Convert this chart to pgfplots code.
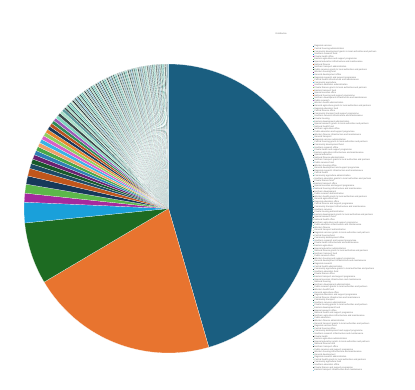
\documentclass[border=0pt]{standalone}
\usepackage{pgfplots}
\usepackage{pgfplotstable}
\pgfplotsset{compat=1.18}
\usepackage{fontspec}
\setmainfont{Liberation Sans}

\definecolor{pc0}{HTML}{1A5E80}
\definecolor{pc1}{HTML}{E8742F}
\definecolor{pc2}{HTML}{1D6B22}
\definecolor{pc3}{HTML}{1AA0DA}
\definecolor{pc4}{HTML}{A52A9E}
\definecolor{pc5}{HTML}{5CB84A}
\definecolor{pc6}{HTML}{16395A}
\definecolor{pc7}{HTML}{C0561C}
\definecolor{pc8}{HTML}{1D4A66}
\definecolor{pc9}{HTML}{175A2A}
\definecolor{pc10}{HTML}{6B2070}
\definecolor{pc11}{HTML}{2D7FB5}
\definecolor{pc12}{HTML}{48A848}
\definecolor{pc13}{HTML}{F0A06A}
\definecolor{pc14}{HTML}{38B4E6}
\definecolor{pc15}{HTML}{D860C8}
\definecolor{pc16}{HTML}{90D060}
\definecolor{pc17}{HTML}{E8862E}
\definecolor{pc18}{HTML}{1A3A5A}
\definecolor{pc19}{HTML}{B85020}
\definecolor{pc20}{HTML}{2E8B57}
\definecolor{pc21}{HTML}{9B59B6}
\definecolor{pc22}{HTML}{7FD6C0}
\definecolor{pc23}{HTML}{3B4B4B}
\definecolor{pc24}{HTML}{A8E0C8}
\definecolor{pc25}{HTML}{5F9EA0}
% muted palette for the many small slices
\definecolor{pm0}{HTML}{3B4B4B}
\definecolor{pm1}{HTML}{A8E0C8}
\definecolor{pm2}{HTML}{2F4F4F}
\definecolor{pm3}{HTML}{7FD6C0}
\definecolor{pm4}{HTML}{5F9EA0}
\definecolor{pm5}{HTML}{C8E6D0}
\definecolor{pm6}{HTML}{1E2A2A}
\definecolor{pm7}{HTML}{9FC5C0}
\definecolor{pm8}{HTML}{4A6A6A}
\definecolor{pm9}{HTML}{88C8E0}

\newcommand\wa[1]{\ifcase#1 Regional\or National\or Community\or Public\or Private\or General\or Special\or Central\or Northern\or Southern\or Western\or Eastern\fi}
\newcommand\wb[1]{\ifcase#1 services\or development\or health\or education\or transport\or housing\or research\or agriculture\or finance\fi}
\newcommand\wc[1]{\ifcase#1 \or and support programme\or fund\or administration\or infrastructure and maintenance\or office\or grants to local authorities and partners\fi}

\pgfplotstableread{
v
45.5
21.0
6.9
2.3
1.0
1.0
0.92
0.86
0.55
0.53
0.51
0.5
0.48
0.46
0.45
0.44
0.42
0.41
0.4
0.39
0.38
0.37
0.36
0.35
0.34
0.33
0.22
0.21
0.2
0.2
0.19
0.19
0.18
0.18
0.18
0.17
0.17
0.17
0.16
0.16
0.16
0.16
0.15
0.15
0.15
0.15
0.15
0.15
0.15
0.15
0.15
0.14
0.14
0.14
0.14
0.14
0.14
0.14
0.14
0.14
0.14
0.13
0.13
0.13
0.13
0.13
0.13
0.13
0.13
0.13
0.13
0.12
0.12
0.12
0.12
0.12
0.12
0.12
0.12
0.12
0.12
0.12
0.12
0.12
0.12
0.12
0.11
0.11
0.11
0.11
0.11
0.11
0.11
0.11
0.11
0.11
0.1
0.1
0.1
0.1
0.1
0.1
0.1
0.1
0.1
0.1
0.1
0.1
0.1
0.1
0.1
0.1
0.1
0.1
0.1
0.1
0.1
0.1
0.1
0.1
0.1
0.1
0.1
0.1
0.1
0.1
}\pietable

\begin{document}
\begin{tikzpicture}
\pgfplotstablegetrowsof{\pietable}%
\pgfmathtruncatemacro{\lastrow}{\pgfplotsretval-1}%
\def\total{0}%
\pgfplotsforeachungrouped \i in {0,...,\lastrow}{%
  \pgfplotstablegetelem{\i}{v}\of\pietable
  \pgfmathsetmacro{\total}{\total+\pgfplotsretval}%
}%
\begin{axis}[
  at={(24bp,37bp)}, anchor=south west,
  scale only axis, width=289bp, height=289bp,
  xmin=-1, xmax=1, ymin=-1, ymax=1,
  hide axis, clip=false,
  title={Distribution},
  title style={at={(0.89,1.083)}, anchor=center, font=\fontsize{2.2}{2.4}\selectfont, text=black!55},
  legend cell align=left,
  legend image code/.code={\path[#1, draw=none] (0bp,-0.5bp) rectangle (1.2bp,0.5bp);},
  legend style={draw=none, fill=none, at={(1.0,1.066)}, anchor=north west,
    font=\fontsize{2.2}{2.4}\selectfont, text=black!55, row sep=0pt, inner sep=0pt,
    nodes={inner sep=0.02bp, text height=1.85bp, text depth=0.7bp}},
]
\def\cum{0}%
\pgfplotsforeachungrouped \i in {0,...,\lastrow}{%
  \pgfplotstablegetelem{\i}{v}\of\pietable
  \pgfmathsetmacro{\a}{90-(\cum/\total)*360}%
  \pgfmathsetmacro{\cum}{\cum+\pgfplotsretval}%
  \pgfmathsetmacro{\b}{90-(\cum/\total)*360}%
  \pgfmathtruncatemacro{\ns}{max(2,(\a-\b)/1.5+2)}%
  \ifnum\i<26 \edef\cn{pc\i}\else\pgfmathtruncatemacro{\ci}{mod(\i-26,10)}\edef\cn{pm\ci}\fi
  \pgfmathtruncatemacro{\ka}{mod(\i*7,12)}%
  \pgfmathtruncatemacro{\kb}{mod(\i*5,9)}%
  \pgfmathtruncatemacro{\kc}{mod(\i*3,7)}%
  \edef\doit{\noexpand\addplot[fill=\cn, draw=white, line width=0.15pt, domain=\b:\a, samples=\ns, variable=\noexpand\t]
    ({cos(\noexpand\t)},{sin(\noexpand\t)}) -- (axis cs:0,0) -- cycle;
    \noexpand\addlegendentry{\noexpand\wa{\ka} \noexpand\wb{\kb} \noexpand\wc{\kc}}}%
  \doit
}
\end{axis}
\pgfresetboundingbox
\path[use as bounding box] (0,0) rectangle (415bp,390bp);
\end{tikzpicture}
\end{document}
